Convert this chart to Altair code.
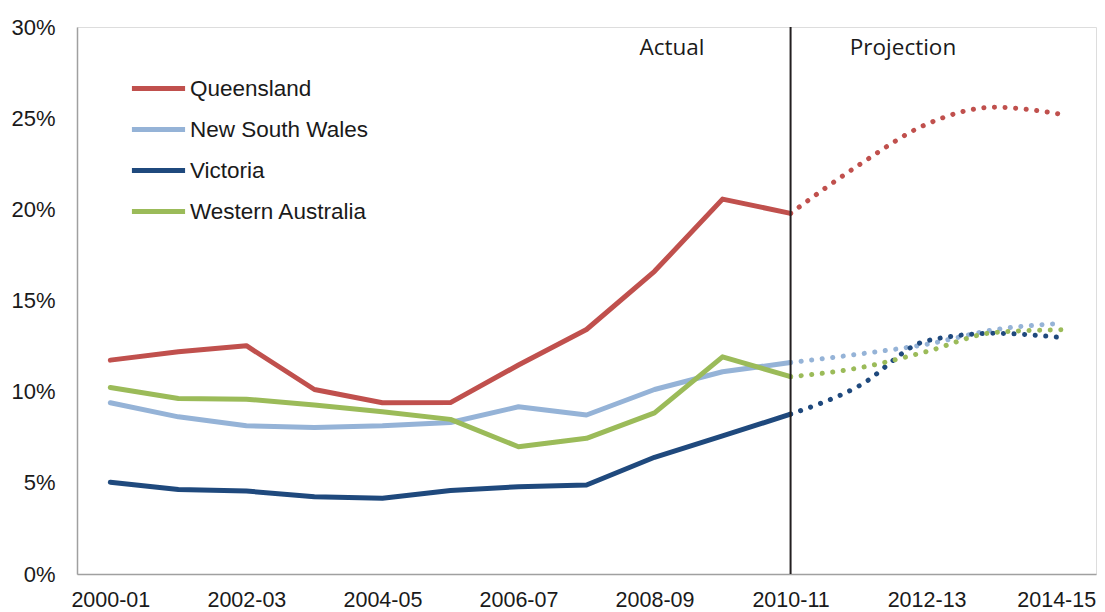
import altair as alt
import pandas as pd

categories = ["2000-01", "2001-02", "2002-03", "2003-04", "2004-05", "2005-06",
              "2006-07", "2007-08", "2008-09", "2009-10", "2010-11", "2011-12",
              "2012-13", "2013-14", "2014-15"]
tick_labels = ["2000-01", "2002-03", "2004-05", "2006-07", "2008-09",
               "2010-11", "2012-13", "2014-15"]
states = ["Queensland", "New South Wales", "Victoria", "Western Australia"]
colors = ["#C0504D", "#95B3D7", "#1F497D", "#9BBB59"]

actual_years = categories[:11]
proj_years = categories[10:]

qld_actual = [11.73, 12.19, 12.52, 10.12, 9.39, 9.40, 11.46, 13.41, 16.60, 20.56, 19.78]
nsw_actual = [9.39, 8.62, 8.13, 8.04, 8.13, 8.31, 9.17, 8.72, 10.12, 11.09, 11.60]
vic_actual = [5.03, 4.64, 4.55, 4.24, 4.15, 4.58, 4.79, 4.88, 6.40, 7.57, 8.77]
wa_actual = [10.23, 9.63, 9.59, 9.27, 8.90, 8.48, 6.98, 7.44, 8.84, 11.91, 10.82]

qld_proj = [19.78, 22.42, 24.67, 25.60, 25.20]
nsw_proj = [11.60, 12.06, 12.60, 13.40, 13.75]
vic_proj = [8.77, 10.30, 12.79, 13.20, 12.96]
wa_proj = [10.82, 11.30, 12.20, 13.25, 13.40]

divider = ["2010-11"]
annotations = ["Actual", "Projection"]

actual_rows = []
for s, vals in zip(states, [qld_actual, nsw_actual, vic_actual, wa_actual]):
    for y, v in zip(actual_years, vals):
        actual_rows.append({"year": y, "state": s, "value": v})
proj_rows = []
for s, vals in zip(states, [qld_proj, nsw_proj, vic_proj, wa_proj]):
    for y, v in zip(proj_years, vals):
        proj_rows.append({"year": y, "state": s, "value": v})

df_actual = pd.DataFrame(actual_rows)
df_proj = pd.DataFrame(proj_rows)

AXIS_FONT = "Liberation Sans"
GRAY = "#A0A0A0"
TEXT = "#1a1a1a"

x_scale = alt.Scale(type="point", domain=categories, padding=0.49)

x_enc = alt.X("year:O", scale=x_scale,
              axis=alt.Axis(title=None, values=tick_labels, labelAngle=0, ticks=False,
                            domainColor=GRAY, domainWidth=1.5, labelFontSize=21.5,
                            labelFont=AXIS_FONT, labelColor=TEXT,
                            labelPadding=15, grid=False, labelOverlap=False,
                            labelAlign={"condition": {"test": "datum.label === '2014-15'",
                                                      "value": "right"},
                                        "value": "center"},
                            labelOffset={"condition": {"test": "datum.label === '2014-15'",
                                                       "value": 33},
                                         "value": 0}))
y_enc = alt.Y("value:Q",
              scale=alt.Scale(domain=[0, 30], nice=False),
              axis=alt.Axis(title=None, values=[0, 5, 10, 15, 20, 25, 30], ticks=False,
                            domainColor=GRAY, domainWidth=1.5, labelFontSize=22,
                            labelFont=AXIS_FONT, labelColor=TEXT,
                            labelPadding=22, grid=False,
                            labelExpr="datum.value + '%'"))

actual = alt.Chart(df_actual).mark_line(strokeWidth=5, strokeCap="round", strokeJoin="round").encode(
    x=x_enc, y=y_enc,
    color=alt.Color("state:N", scale=alt.Scale(domain=states, range=colors),
                    legend=alt.Legend(orient="none", legendX=52, legendY=32, title=None,
                                      symbolType="stroke", symbolSize=2824,
                                      symbolStrokeWidth=5, labelFontSize=22.5,
                                      labelFont=AXIS_FONT, labelColor=TEXT,
                                      labelOffset=2, rowPadding=-1, padding=0,
                                      labelLimit=400)),
    order=alt.Order("year:O"),
)

proj = alt.Chart(df_proj).mark_line(strokeWidth=5, strokeCap="round",
                                    strokeDash=[0.1, 10.5], interpolate="monotone").encode(
    x=alt.X("year:O", scale=x_scale),
    y=alt.Y("value:Q"),
    stroke=alt.Stroke("state:N", scale=alt.Scale(domain=states, range=colors), legend=None),
    detail="state:N",
)

rule = alt.Chart(pd.DataFrame({"year": divider})).mark_rule(color="#231F20", strokeWidth=2).encode(
    x=alt.X("year:O", scale=x_scale)
)

ann = alt.Chart(pd.DataFrame({"label": annotations, "px": [595, 826]})).mark_text(
    font="Open Sans", fontSize=22.5, color=TEXT, baseline="middle", align="center"
).encode(
    x=alt.X("px:Q", scale=None),
    y=alt.value(21),
    text="label:N",
)

chart = alt.layer(actual, proj, rule, ann).properties(
    width=1019, height=547,
    autosize=alt.AutoSizeParams(type="none"),
    padding={"left": 69, "top": 19, "right": 1, "bottom": 38},
).configure_view(stroke=None).configure(background="white")

chart.save("out.html", embed_options={"renderer": "svg", "actions": False})
